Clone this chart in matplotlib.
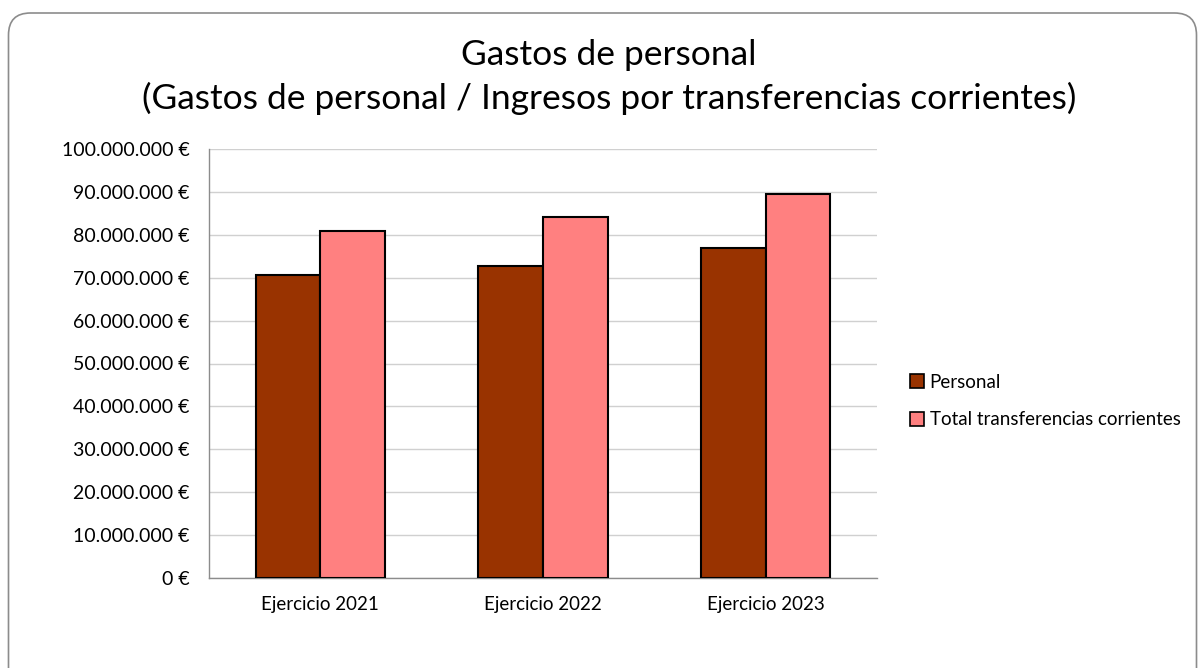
import matplotlib
matplotlib.use("Agg")
import matplotlib.pyplot as plt
from matplotlib.patches import FancyBboxPatch, Patch
from matplotlib.ticker import FuncFormatter
import numpy as np

categories = ["Ejercicio 2021", "Ejercicio 2022", "Ejercicio 2023"]
personal = [70.6e6, 72.8e6, 76.9e6]
transferencias = [80.9e6, 84.2e6, 89.5e6]
series_names = ["Personal", "Total transferencias corrientes"]
colors = ["#993300", "#FF8080"]
title = "Gastos de personal\n(Gastos de personal / Ingresos por transferencias corrientes)"

plt.rcParams['font.family'] = ['Lato', 'DejaVu Sans']

fig = plt.figure(figsize=(11.98, 6.68), dpi=100)
# rounded frame in pixel coordinates
border = FancyBboxPatch((8.5, -40), 1188, 655 + 40,
                        boxstyle="round,pad=0,rounding_size=22",
                        transform=None, fill=False,
                        edgecolor="#8c8c8c", linewidth=1.2)
fig.patches.append(border)

ax = fig.add_axes([209/1198, 1 - 578/668, (877-209)/1198, (578-149)/668])
x = np.arange(len(categories))
w = 0.29
ax.bar(x - w/2, personal, w, color=colors[0], edgecolor="black", linewidth=1.5, zorder=3)
ax.bar(x + w/2, transferencias, w, color=colors[1], edgecolor="black", linewidth=1.5, zorder=3)

ax.set_xlim(-0.5, 2.5)
ax.set_ylim(0, 100e6)
ax.set_yticks(np.arange(0, 100e6 + 1, 10e6))

def fmt(v, pos):
    s = f"{int(round(v)):,}".replace(",", ".")
    return f"{s} €"
ax.yaxis.set_major_formatter(FuncFormatter(fmt))
ax.set_xticks(x)
ax.set_xticklabels(categories)
ax.tick_params(axis='y', labelsize=14, length=0, pad=14, labelcolor="black")
ax.tick_params(axis='x', labelsize=13.5, length=0, pad=13, labelcolor="black")
ax.grid(axis='y', color="#d0d0d0", linewidth=1, zorder=0)
for s in ["top", "right"]:
    ax.spines[s].set_visible(False)
for s in ["left", "bottom"]:
    ax.spines[s].set_color("#8c8c8c")
    ax.spines[s].set_linewidth(1)

fig.text(609/1198, 1 - 77/668, title, ha="center", va="center", fontsize=25.5, linespacing=1.38)

handles = [Patch(facecolor=c, edgecolor="black", linewidth=1.2) for c in colors]
fig.legend(handles, series_names, loc="center left", bbox_to_anchor=(893/1198, 1 - 401/668),
           frameon=False, fontsize=13.5, handlelength=0.75, handleheight=0.75,
           handletextpad=0.3, labelspacing=1.1)

fig.savefig("out.png", dpi=100)
